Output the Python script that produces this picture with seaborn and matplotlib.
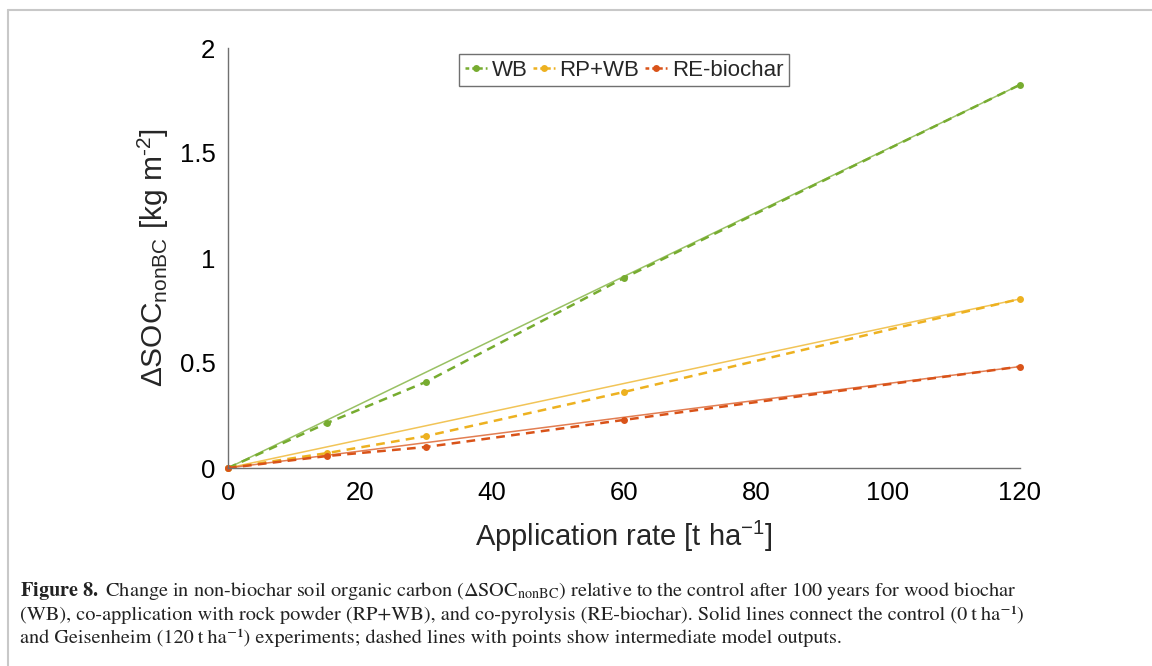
import numpy as np
import pandas as pd
import matplotlib
matplotlib.use("Agg")
import matplotlib.pyplot as plt
import seaborn as sns
from matplotlib.lines import Line2D

# ---- data ----
rates = [0, 15, 30, 60, 120]
wb = [0.0, 0.214, 0.41, 0.905, 1.825]
rp_wb = [0.0, 0.071, 0.152, 0.362, 0.805]
re_biochar = [0.0, 0.057, 0.10, 0.229, 0.483]
series_names = ["WB", "RP+WB", "RE-biochar"]
colors = ["#77AC30", "#EDB120", "#D95319"]
x_ticks = [0, 20, 40, 60, 80, 100, 120]
y_ticks = [0, 0.5, 1, 1.5, 2]
y_ticklabels = ["0", "0.5", "1", "1.5", "2"]

sns.set_theme(style="white")
plt.rcParams['font.family'] = ['Liberation Sans', 'DejaVu Sans']
plt.rcParams['mathtext.fontset'] = 'custom'
plt.rcParams['mathtext.rm'] = 'Liberation Sans'
plt.rcParams['mathtext.it'] = 'Liberation Sans:italic'
plt.rcParams['mathtext.bf'] = 'Liberation Sans:bold'

df = pd.DataFrame({
    "rate": rates * 3,
    "value": wb + rp_wb + re_biochar,
    "series": [s for s in series_names for _ in rates],
})
ends = df[df["rate"].isin([rates[0], rates[-1]])]

fig = plt.figure(figsize=(11.52, 6.66), dpi=100)
ax = fig.add_axes([228/1152, 1-468/666, (1020-228)/1152, (468-48)/666])

palette = dict(zip(series_names, colors))
# solid lines: control to Geisenheim
sns.lineplot(data=ends, x="rate", y="value", hue="series", palette=palette,
             linewidth=1.1, alpha=0.75, legend=False, ax=ax, estimator=None)
# dashed lines with points
sns.lineplot(data=df, x="rate", y="value", hue="series", palette=palette,
             linewidth=1.8, marker="o", markersize=5, markeredgewidth=0,
             legend=False, ax=ax, estimator=None)
for ln in ax.lines[3:]:
    ln.set_linestyle((0, (3.5, 2.5)))

ax.set_xlim(0, 120)
ax.set_ylim(0, 2)
ax.set_xticks(x_ticks)
ax.set_yticks(y_ticks)
ax.set_yticklabels(y_ticklabels)
ax.tick_params(direction="in", length=6, width=1, color="#707070",
               labelsize=18.5, labelcolor="black", pad=9)
for s in ["top", "right"]:
    ax.spines[s].set_visible(False)
for s in ["left", "bottom"]:
    ax.spines[s].set_color("#707070")
    ax.spines[s].set_linewidth(1.0)
ax.set_facecolor("white")
for ln in ax.lines:
    ln.set_clip_on(False)

ax.set_xlabel(r"Application rate [t ha$^{-1}$]", fontsize=21, labelpad=10)
ax.set_ylabel(r"$\Delta$SOC$_{\mathrm{nonBC}}$ [kg m$^{\text{-}2}$]", fontsize=21.5, labelpad=6)

handles = [Line2D([], [], color=c, linestyle=(0, (1.5, 1.2)), linewidth=1.8,
                  marker="o", markersize=5, markeredgewidth=0) for c in colors]
leg = ax.legend(handles, series_names, loc="upper center", bbox_to_anchor=(0.5, 0.985),
                ncol=3, fontsize=16, frameon=True, fancybox=False,
                handlelength=1.0, handletextpad=0.2, columnspacing=0.25,
                borderpad=0.25, borderaxespad=0.0)
leg.get_frame().set_edgecolor("#707070")
leg.get_frame().set_linewidth(1.0)
leg.get_frame().set_alpha(1)

# figure border (top and left as in cropped reference)
fig.add_artist(Line2D([8/1152, 8/1152], [0, 1-10/666], color="#c8c8c8", lw=1.5, transform=fig.transFigure))
fig.add_artist(Line2D([8/1152, 1], [1-10/666, 1-10/666], color="#c8c8c8", lw=1.5, transform=fig.transFigure))

cap_kw = dict(family=["STIXGeneral", "DejaVu Serif"], math_fontfamily="stix", fontsize=14.6,
              color="#222222", transform=fig.transFigure, va="baseline", ha="left")
lines = [
    r"$\mathbf{Figure\ 8.}$ Change in non-biochar soil organic carbon ($\Delta\mathrm{SOC}_{\mathrm{nonBC}}$) relative to the control after 100 years for wood biochar",
    "(WB), co-application with rock powder (RP+WB), and co-pyrolysis (RE-biochar). Solid lines connect the control (0\u2009t\u2009ha\u207b\u00b9)",
    "and Geisenheim (120\u2009t\u2009ha\u207b\u00b9) experiments; dashed lines with points show intermediate model outputs.",
]
for i, t in enumerate(lines):
    fig.text(20/1152, 1-(596+23.5*i)/666, t, **cap_kw)

fig.savefig("out.png", dpi=100)
